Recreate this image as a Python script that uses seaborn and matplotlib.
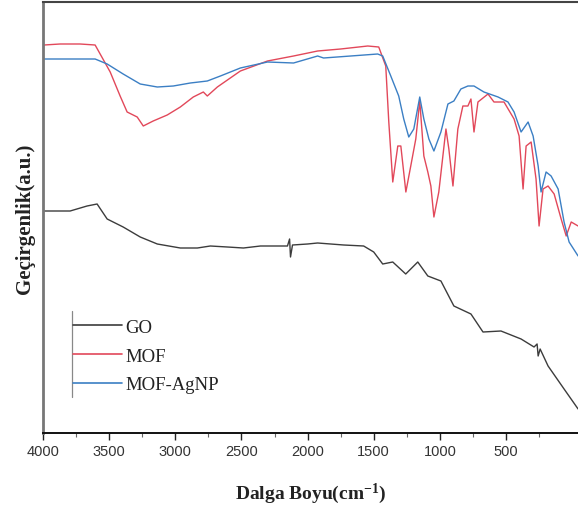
import numpy as np
import pandas as pd
import matplotlib
matplotlib.use("Agg")
import matplotlib.pyplot as plt
import seaborn as sns

# FTIR spectra (wavenumber in cm-1, transmittance in a.u.)
GO_WN = [3992, 3795, 3667, 3591, 3515, 3394, 3265, 3136, 2962, 2833, 2735, 2606,
         2485, 2356, 2152, 2136, 2129, 2114, 2000, 1924, 1727, 1576, 1500, 1432,
         1356, 1258, 1167, 1091, 992, 894, 765, 674, 538, 386, 288, 265, 257, 242,
         182, 61, -45]
GO_T = [222, 222, 227, 229, 214, 206, 196, 189, 185, 185, 187, 186,
        185, 187, 187, 194, 176, 188, 189, 190, 188, 187, 181, 169,
        171, 159, 171, 157, 152, 127, 119, 101, 102, 94, 86, 89, 77, 84,
        67, 44, 24]

MOF_WN = [3992, 3871, 3720, 3606, 3568, 3492, 3417, 3364, 3288, 3242, 3167, 3061,
          2962, 2864, 2788, 2758, 2682, 2508, 2303, 2106, 1924, 1750, 1545, 1462,
          1409, 1386, 1356, 1318, 1295, 1257, 1220, 1182, 1152, 1121, 1091, 1068,
          1045, 1008, 954, 932, 901, 864, 826, 788, 765, 742, 712, 636, 591, 515,
          439, 401, 371, 348, 310, 273, 250, 220, 182, 136, 83, 45, 7, -45]
MOF_T = [388, 389, 389, 388, 379, 361, 337, 321, 316, 307, 312, 318,
         326, 336, 341, 337, 346, 362, 372, 377, 382, 384, 387, 386,
         367, 311, 251, 287, 287, 241, 267, 294, 332, 277, 261, 247,
         216, 241, 304, 284, 247, 304, 327, 327, 334, 301, 331, 339, 331, 331,
         314, 297, 244, 287, 291, 254, 207, 244, 247, 239, 214, 197, 211, 207]

AGNP_WN = [3992, 3606, 3515, 3394, 3265, 3136, 3015, 2886, 2758, 2659, 2508, 2303,
           2106, 1924, 1879, 1674, 1470, 1432, 1371, 1311, 1273, 1235, 1197, 1152,
           1121, 1083, 1045, 992, 939, 894, 841, 788, 742, 667, 560, 485, 439, 386,
           333, 295, 257, 235, 197, 159, 106, 61, 23, -45]
AGNP_T = [374, 374, 369, 359, 349, 346, 347, 350, 352, 357, 365, 371,
          370, 377, 375, 377, 379, 377, 357, 337, 314, 296, 304, 336,
          314, 294, 282, 301, 329, 332, 344, 347, 347, 341, 336, 331, 321, 301,
          311, 297, 267, 241, 261, 257, 244, 211, 191, 177]

SERIES = ["GO", "MOF", "MOF-AgNP"]
COLOURS = {"GO": "#3c3c3c", "MOF": "#e2485a", "MOF-AgNP": "#3b7fc4"}

df = pd.concat([
    pd.DataFrame({"wn": GO_WN, "T": GO_T, "sample": "GO"}),
    pd.DataFrame({"wn": MOF_WN, "T": MOF_T, "sample": "MOF"}),
    pd.DataFrame({"wn": AGNP_WN, "T": AGNP_T, "sample": "MOF-AgNP"}),
], ignore_index=True)

sns.set_style("white")
plt.rcParams["font.family"] = ["Liberation Sans", "DejaVu Sans"]
plt.rcParams["mathtext.default"] = "regular"

fig = plt.figure(figsize=(5.78, 5.10), dpi=100)
ax = fig.add_axes([43 / 578, 1 - 434 / 510, 1 - 43 / 578 + 0.002, 431 / 510])

sns.lineplot(data=df, x="wn", y="T", hue="sample", hue_order=SERIES,
             palette=COLOURS, estimator=None, sort=False, linewidth=1.0,
             ax=ax, legend=False)

ax.set_xlim(4000, -53)
ax.set_ylim(0, 431)
ax.set_xticks(np.arange(4000, 499, -500))
ax.set_xticks(np.arange(3750, 249, -500), minor=True)
ax.set_yticks([])
ax.tick_params(axis="x", which="major", direction="out", length=5, width=1,
               colors="#222222", labelsize=10.5, labelcolor="#333333", pad=3)
ax.tick_params(axis="x", which="minor", direction="out", length=3, width=0.8,
               colors="#666666")
ax.tick_params(axis="x", bottom=True, which="both")

ax.spines["right"].set_visible(False)
ax.spines["top"].set_visible(True)
ax.spines["left"].set_color("#777777")
ax.spines["left"].set_linewidth(2.0)
ax.spines["bottom"].set_color("#111111")
ax.spines["bottom"].set_linewidth(1.4)
ax.spines["top"].set_color("#444444")
ax.spines["top"].set_linewidth(1.5)

ax.set_xlabel("Dalga Boyu(cm$^{-1}$)", fontfamily="Liberation Serif",
              fontweight="bold", fontsize=14, labelpad=16, color="#222222")
ax.set_ylabel("Geçirgenlik(a.u.)", fontfamily="Liberation Serif",
              fontweight="bold", fontsize=15, labelpad=6, color="#222222")

handles = [plt.Line2D([], [], color=COLOURS[s], linewidth=1.2) for s in SERIES]
leg = ax.legend(handles, SERIES, loc="upper left", bbox_to_anchor=(0.056, 0.265),
                frameon=False, borderaxespad=0, borderpad=0, handlelength=2.6,
                handletextpad=0.2, labelspacing=0.62,
                prop={"family": "Liberation Serif", "size": 13.5})
for t in leg.get_texts():
    t.set_color("#222222")

# thin grey bar at the left of the legend block
ax.plot([0.054, 0.054], [0.083, 0.282], transform=ax.transAxes,
        color="#888888", linewidth=0.9)

fig.savefig("out.png", dpi=100)
